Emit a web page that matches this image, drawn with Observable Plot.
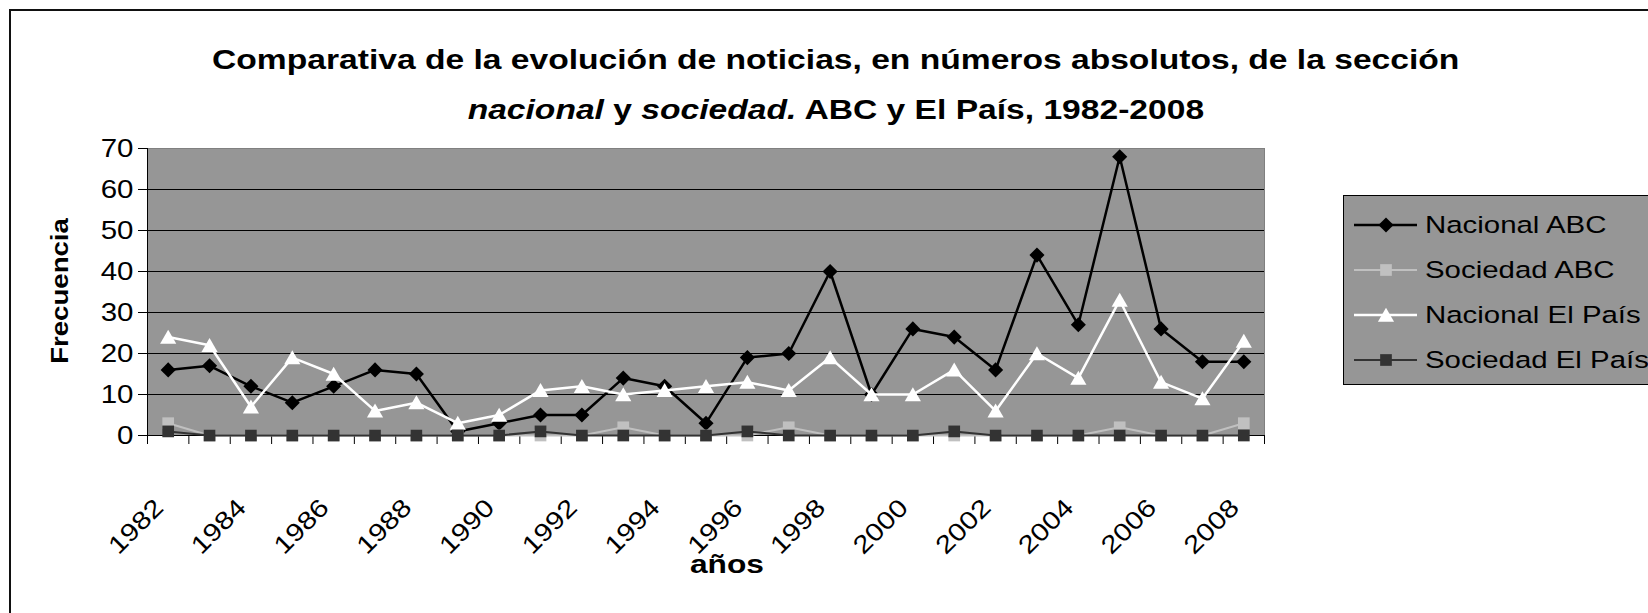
<!DOCTYPE html>
<html><head><meta charset="utf-8">
<script src="https://cdn.jsdelivr.net/npm/d3@7"></script>
<script src="https://cdn.jsdelivr.net/npm/@observablehq/plot@0.6"></script>
<style>
html,body{margin:0;padding:0;background:#fff;}
#wrap{position:relative;width:1648px;height:613px;overflow:hidden;font-family:"Liberation Sans",Arial,sans-serif;color:#000;}
.frame{position:absolute;left:9px;top:9px;width:2000px;height:2000px;border-left:2px solid #111;border-top:2px solid #111;pointer-events:none;}
#title{position:relative;height:128px;}
.tline{position:absolute;left:0;width:1672px;text-align:center;font-weight:bold;font-size:28px;line-height:28px;white-space:nowrap;}
.tline .s{display:inline-block;transform:scaleX(1.2);}
#chart svg{display:block;}
.ylab{position:absolute;left:60px;top:291px;font-weight:bold;font-size:23px;line-height:23px;white-space:nowrap;transform:translate(-50%,-50%) rotate(-90deg) scaleX(1.2);}
.xlab{position:absolute;left:727px;top:551px;font-weight:bold;font-size:26px;line-height:26px;white-space:nowrap;transform:translate(-50%,0) scaleX(1.22);}
#legend{position:absolute;left:1343px;top:195px;width:420px;height:190px;box-sizing:border-box;border:1px solid #000;background:#969696;}
#legend .lt{position:absolute;left:81px;font-size:24.5px;line-height:25px;white-space:nowrap;transform:scaleX(1.2);transform-origin:left center;}
#legend svg{position:absolute;left:0;top:0;}
</style>
</head><body>
<div id="wrap">
  <div id="title">
    <div class="tline" style="top:46px"><span class="s">Comparativa de la evolución de noticias, en números absolutos, de la sección</span></div>
    <div class="tline" style="top:96px"><span class="s"><i>nacional</i> y <i>sociedad.</i> ABC y El País, 1982-2008</span></div>
  </div>
  <div id="chart"></div>
  <div class="ylab">Frecuencia</div>
  <div class="xlab">años</div>
  <div id="legend"></div>
  <div class="frame"></div>
</div>
<script>
// ---- data ----
const years = [1982,1983,1984,1985,1986,1987,1988,1989,1990,1991,1992,1993,1994,1995,1996,1997,1998,1999,2000,2001,2002,2003,2004,2005,2006,2007,2008];
const nacionalABC    = [16,17,12,8,12,16,15,1,3,5,5,14,12,3,19,20,40,10,26,24,16,44,27,68,26,18,18];
const sociedadABC    = [3,0,0,0,0,0,0,0,0,0,0,2,0,0,0,2,0,0,0,0,0,0,0,2,0,0,3];
const nacionalElPais = [24,22,7,19,15,6,8,3,5,11,12,10,11,12,13,11,19,10,10,16,6,20,14,33,13,9,23];
const sociedadElPais = [1,0,0,0,0,0,0,0,0,1,0,0,0,0,1,0,0,0,0,1,0,0,0,0,0,0,0];
const seriesNames = ["Nacional ABC","Sociedad ABC","Nacional El País","Sociedad El País"];
const yTicks = [0,10,20,30,40,50,60,70];
const xLabelYears = [1982,1984,1986,1988,1990,1992,1994,1996,1998,2000,2002,2004,2006,2008];

// ---- styles ----
const styles = [
  {values: nacionalABC,    color: "#000000", symbol: "diamond2", r: 6.8, sw: 2.5, dy: 0},
  {values: sociedadABC,    color: "#c0c0c0", symbol: "square",   r: 6.6, sw: 2,   dy: 0},
  {values: nacionalElPais, color: "#ffffff", symbol: "triangle", r: 6.0, sw: 2.5, dy: 2},
  {values: sociedadElPais, color: "#333333", symbol: "square",   r: 6.6, sw: 2,   dy: 0}
];
const tables = styles.map((s, k) => years.map((yr, i) => ({year: yr, value: s.values[i], series: seriesNames[k]})));
const boundaries = years.map(y => y - 0.5).concat([years[years.length - 1] + 0.5]);

const seriesMarks = styles.flatMap((s, k) => [
  Plot.line(tables[k], {x: "year", y: "value", stroke: s.color, strokeWidth: s.sw}),
  Plot.dot(tables[k], {x: "year", y: "value", symbol: s.symbol, r: s.r, fill: s.color, stroke: "none", dy: s.dy})
]);

const chart = Plot.plot({
  width: 1648, height: 485,
  marginLeft: 147, marginRight: 384, marginTop: 20, marginBottom: 178,
  style: {fontFamily: '"Liberation Sans", Arial, sans-serif', color: "#000", background: "transparent", overflow: "visible"},
  x: {type: "linear", domain: [boundaries[0], boundaries[boundaries.length - 1]]},
  y: {type: "linear", domain: [0, 70]},
  marks: [
    Plot.frame({fill: "#969696"}),
    Plot.gridY(yTicks.filter(d => d > 0 && d < 70), {stroke: "#000", strokeOpacity: 1, strokeWidth: 1}),
    Plot.ruleY([70], {stroke: "#808080"}),
    Plot.ruleX([boundaries[boundaries.length - 1]], {stroke: "#808080"}),
    Plot.ruleY([0], {stroke: "#000"}),
    Plot.ruleX([boundaries[0]], {stroke: "#000"}),
    Plot.axisY(yTicks, {tickSize: 9, tickPadding: 5, fontSize: 25, label: null, tickFormat: d => String(d)}),
    Plot.axisX(boundaries, {tickSize: 9, tickFormat: () => "", label: null}),
    Plot.axisX(xLabelYears, {tickSize: 0, tickPadding: 68, tickRotate: -45, textAnchor: "end", lineAnchor: "middle", dx: -9, fontSize: 25, label: null, tickFormat: d => String(d)}),
    ...seriesMarks
  ]
});
document.getElementById("chart").appendChild(chart);

// widen the text glyphs like the original rendering
function stretch(root, k) {
  root.querySelectorAll('g[aria-label$="tick label"] text').forEach(t => {
    const tr = t.getAttribute("transform");
    if (tr) t.setAttribute("transform", tr + ` scale(${k},1)`);
  });
}
stretch(chart, 1.18);

// ---- legend ----
const legend = d3.select("#legend");
const lsvg = legend.append("svg").attr("width", 100).attr("height", 190);
styles.forEach((s, i) => {
  const cy = 29 + 45 * i;
  lsvg.append("line").attr("x1", 10).attr("x2", 73).attr("y1", cy).attr("y2", cy)
    .attr("stroke", s.color).attr("stroke-width", s.sw);
  const symType = s.symbol === "diamond2" ? d3.symbolDiamond2 : s.symbol === "triangle" ? d3.symbolTriangle : d3.symbolSquare;
  lsvg.append("path").attr("d", d3.symbol(symType, Math.PI * s.r * s.r)())
    .attr("transform", `translate(42,${cy + s.dy})`).attr("fill", s.color);
  legend.append("div").attr("class", "lt").style("top", (16 + 45 * i) + "px").text(seriesNames[i]);
});
</script>
</body></html>
